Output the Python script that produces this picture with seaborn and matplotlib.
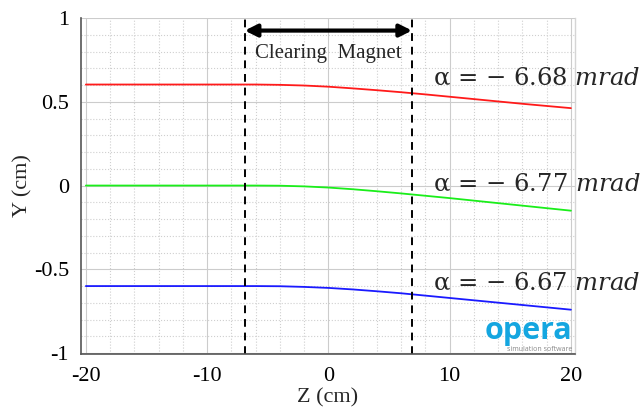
# Beam deflection through the clearing magnet (Opera-style figure)

import matplotlib
matplotlib.use("Agg")
import matplotlib.pyplot as plt
from matplotlib.ticker import MultipleLocator
import pandas as pd
import seaborn as sns

# values
z_cm = [-20, -10, -6, -4, -2, 0, 2, 4, 6, 8, 10, 12, 14, 16, 18, 20]
y_top = [0.603, 0.603, 0.603, 0.601, 0.597, 0.590, 0.580, 0.569, 0.557, 0.544,
         0.530, 0.516, 0.502, 0.488, 0.475, 0.462]
y_mid = [0.0, 0.0, 0.0, -0.001, -0.005, -0.012, -0.022, -0.034, -0.047, -0.061,
         -0.075, -0.090, -0.105, -0.120, -0.135, -0.150]
y_bot = [-0.600, -0.600, -0.600, -0.601, -0.605, -0.611, -0.620, -0.631, -0.643,
         -0.657, -0.671, -0.685, -0.699, -0.713, -0.727, -0.741]
beam_names = ["top", "middle", "bottom"]
beam_colors = ["#ff1a1a", "#1aee1a", "#1a1aff"]
alpha_labels = ["6.68", "6.77", "6.67"]
label_y = [0.64, 0.01, -0.58]
magnet_edges = [-6.9, 6.9]

df = pd.DataFrame({
    "Z": z_cm * 3,
    "Y": y_top + y_mid + y_bot,
    "beam": [b for b in beam_names for _ in z_cm],
})

sns.set_theme(style="white")
plt.rcParams["font.family"] = ["Liberation Serif", "DejaVu Serif"]
plt.rcParams["mathtext.fontset"] = "dejavuserif"

fig = plt.figure(figsize=(6.42, 4.07), dpi=100)
ax = fig.add_axes([0.126, 0.130, 0.7695, 0.827])

sns.lineplot(data=df, x="Z", y="Y", hue="beam", palette=beam_colors,
             legend=False, linewidth=1.3, ax=ax)

ax.set_xlim(-20.41, 20.33)
ax.set_ylim(-1.006, 1.003)
ax.xaxis.set_major_locator(MultipleLocator(10))
ax.xaxis.set_minor_locator(MultipleLocator(2))
ax.yaxis.set_major_locator(MultipleLocator(0.5))
ax.yaxis.set_minor_locator(MultipleLocator(0.1))
ax.set_yticks([-1, -0.5, 0, 0.5, 1])
ax.set_yticklabels(["-1", "-0.5", "0", "0.5", "1"])
ax.set_xticks([-20, -10, 0, 10, 20])
ax.set_xticklabels(["-20", "-10", "0", "10", "20"])

ax.grid(which="major", color="#cccccc", linestyle="-", linewidth=0.8)
ax.grid(which="minor", color="#cfcfcf", linestyle=":", linewidth=0.8)
ax.set_axisbelow(True)

for s in ["left", "bottom"]:
    ax.spines[s].set_color("#555555")
    ax.spines[s].set_linewidth(1.2)
ax.spines["top"].set_visible(False)
ax.spines["right"].set_color("#d5d5d5")
ax.spines["right"].set_linewidth(1.0)

ax.tick_params(axis="both", which="both", direction="out", color="#555555",
               labelsize=16, labelcolor="black")
ax.tick_params(which="major", length=5, width=1.0)
ax.tick_params(which="minor", length=4, width=0.9)
ax.tick_params(axis="x", which="both", pad=4)

ax.set_xlabel("Z (cm)", fontsize=16, labelpad=2)
ax.set_ylabel("Y (cm)", fontsize=16)
ax.yaxis.set_label_coords(-0.097, 0.5)

# magnet edges
for xe in magnet_edges:
    ax.axvline(xe, color="black", linestyle=(0, (4, 3)), linewidth=1.4)
ax.annotate("", xy=(magnet_edges[0], 0.925), xytext=(magnet_edges[1], 0.925),
            arrowprops=dict(arrowstyle="<|-|>", color="black", lw=3,
                            mutation_scale=18, shrinkA=0, shrinkB=0))
ax.text(0, 0.79, "Clearing  Magnet", ha="center", va="center", fontsize=15)

for ly, a in zip(label_y, alpha_labels):
    ax.text(8.6, ly, "α = − " + a + r" $\mathit{mrad}$", ha="left", va="center",
            fontsize=17.5, family="DejaVu Serif", clip_on=False)

# logo
ax.text(20.1, -0.87, "opera", ha="right", va="center", color="#14a6e0",
        fontsize=22, fontweight="bold", family="Open Sans")
ax.text(20.1, -0.978, "simulation software", ha="right", va="center",
        color="#888888", fontsize=5, family="Open Sans")

fig.savefig("out.png", dpi=100)
